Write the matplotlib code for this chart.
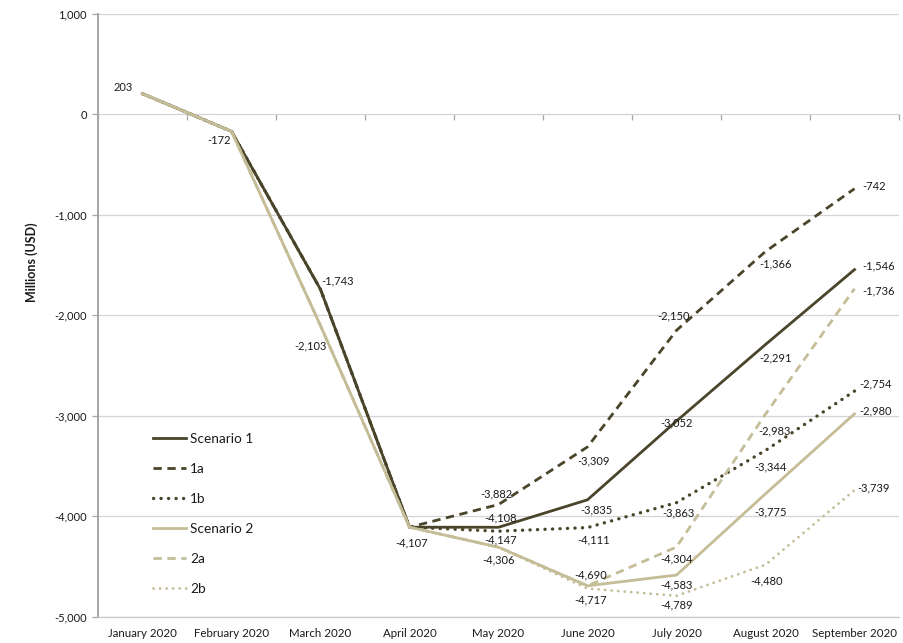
import matplotlib
matplotlib.use("Agg")
import matplotlib.pyplot as plt
from matplotlib.ticker import FuncFormatter, FixedLocator

plt.rcParams['font.family'] = ['Lato', 'DejaVu Sans']

months = ["January 2020", "February 2020", "March 2020", "April 2020", "May 2020",
          "June 2020", "July 2020", "August 2020", "September 2020"]

scenario_1 = [203, -172, -1743, -4107, -4108, -3835, -3052, -2291, -1546]
scenario_1a = [203, -172, -1743, -4107, -3882, -3309, -2150, -1366, -742]
scenario_1b = [203, -172, -1743, -4107, -4147, -4111, -3863, -3344, -2754]
scenario_2 = [203, -172, -2103, -4107, -4306, -4690, -4583, -3775, -2980]
scenario_2a = [203, -172, -2103, -4107, -4306, -4690, -4304, -2983, -1736]
scenario_2b = [203, -172, -2103, -4107, -4306, -4717, -4789, -4480, -3739]

y_ticks = [1000, 0, -1000, -2000, -3000, -4000, -5000]

DARK = "#4A452A"
LIGHT = "#C4BD97"
TEXT = "#1a1a1a"

# name, values, colour, line style, line width
series = [
    ("Scenario 1", scenario_1, DARK, "-", 2.0),
    ("1a", scenario_1a, DARK, (0, (3, 2)), 2.0),
    ("1b", scenario_1b, DARK, (0, (0.05, 2.2)), 2.4),
    ("Scenario 2", scenario_2, LIGHT, "-", 2.0),
    ("2a", scenario_2a, LIGHT, (0, (3, 2)), 2.0),
    ("2b", scenario_2b, LIGHT, (0, (0.05, 2.3)), 2.0),
]

# which points carry a value label: (series name, month index, dx px, dy px)
label_spots = [
    ("Scenario 1", 0, -19, 6), ("Scenario 1", 1, -12, -9), ("Scenario 1", 2, 17, 8),
    ("Scenario 1", 3, 2, -16), ("Scenario 1", 4, 2, 9), ("Scenario 1", 5, 9, -10),
    ("Scenario 1", 6, 0, -2), ("Scenario 1", 7, 10, -13), ("Scenario 1", 8, 24, 4),
    ("1a", 4, -2, 11), ("1a", 5, 6, -14), ("1a", 6, -3, 14), ("1a", 7, 10, -12),
    ("1a", 8, 20, 2),
    ("1b", 4, 2, -9), ("1b", 5, 6, -12), ("1b", 6, 2, -10), ("1b", 7, 5, -16),
    ("1b", 8, 21, 7),
    ("Scenario 2", 2, -10, -20), ("Scenario 2", 4, 0, -13), ("Scenario 2", 5, 3, 11),
    ("Scenario 2", 6, 0, -10), ("Scenario 2", 7, 5, -18), ("Scenario 2", 8, 21, 3),
    ("2a", 6, 0, -12), ("2a", 7, 9, -17), ("2a", 8, 24, -2),
    ("2b", 5, 3, -11), ("2b", 6, 0, -9), ("2b", 7, 1, -16), ("2b", 8, 19, 2),
]

W, H = 904, 643
fig = plt.figure(figsize=(W / 100, H / 100), dpi=100)
left, right, top, bottom = 98, 899, 13.5, 617
ax = fig.add_axes([left / W, (H - bottom) / H, (right - left) / W, (bottom - top) / H])

x = list(range(len(months)))
values_by_name = {}
for name, vals, color, ls, lw in series:
    values_by_name[name] = vals
    ax.plot(x, vals, color=color, lw=lw, linestyle=ls, label=name,
            dash_capstyle="round" if name.endswith("b") else "butt",
            solid_joinstyle="round")

fmt = lambda v: f"{v:,.0f}"
for name, idx, dx, dy in label_spots:
    v = values_by_name[name][idx]
    ax.annotate(fmt(v), (idx, v), xytext=(dx, dy), textcoords="offset pixels",
                ha="center", va="center", fontsize=8, color=TEXT)

ax.set_xlim(-0.5, len(months) - 0.5)
ax.set_ylim(-5000, 1000)
ax.set_yticks(y_ticks)
ax.yaxis.set_major_formatter(FuncFormatter(lambda v, p: fmt(v)))
ax.grid(axis="y", color="#d4d4d4", lw=0.9)
ax.set_axisbelow(True)
ax.tick_params(axis="y", length=4, width=0.9, color="#a6a6a6", labelsize=8,
               labelcolor=TEXT, pad=4)

ax.set_xticks(x)
ax.set_xticklabels(months)
ax.tick_params(axis="x", length=0, labelsize=8.3, labelcolor=TEXT, pad=8)

for s in ("top", "right"):
    ax.spines[s].set_visible(False)
ax.spines["left"].set_color("#a6a6a6")
ax.spines["left"].set_linewidth(1.4)
ax.spines["bottom"].set_color("#c8c8c8")
ax.spines["bottom"].set_linewidth(0.9)

# category axis crossing at zero, with tick marks between months
zero_frac = (0 - (-5000)) / 6000
sec = ax.secondary_xaxis(zero_frac)
sec.xaxis.set_major_locator(FixedLocator([i + 0.5 for i in range(-1, len(months))]))
sec.tick_params(axis="x", direction="out", length=4, width=0.9, color="#a6a6a6",
                labelbottom=False, labeltop=False, bottom=True, top=False)
sec.spines["bottom"].set_color("#a6a6a6")
sec.spines["bottom"].set_linewidth(1.0)
for s in ("top", "left", "right"):
    sec.spines[s].set_visible(False)

fig.text(32 / W, 1 - 262 / H, "Millions (USD)", rotation=90, ha="center", va="center",
         fontsize=9, fontweight="bold", color=TEXT)

leg = ax.legend(loc="upper left", bbox_to_anchor=(153 / W, 1 - 433 / H),
                bbox_transform=fig.transFigure, frameon=False, fontsize=9.8,
                handlelength=2.4, handletextpad=0.35, labelspacing=1.32,
                borderaxespad=0, borderpad=0)
for t in leg.get_texts():
    t.set_color(TEXT)

fig.savefig("out.png", dpi=100)
